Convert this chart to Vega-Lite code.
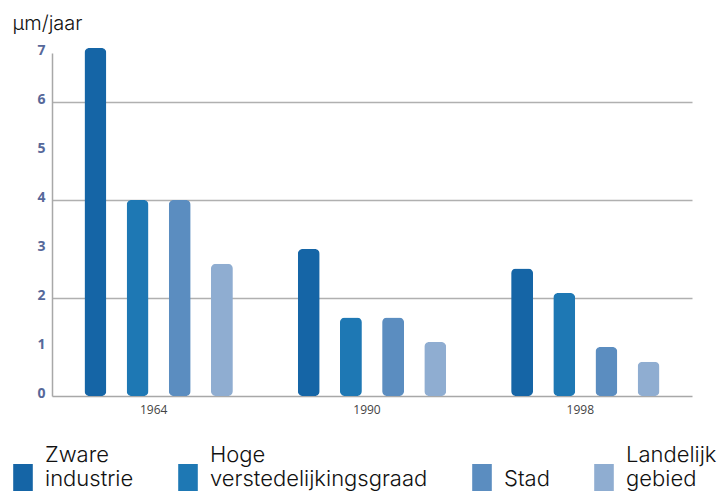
{
  "$schema": "https://vega.github.io/schema/vega-lite/v6.json",
  "width": 640,
  "height": 343,
  "autosize": {"type": "none"},
  "padding": {"left": 52, "top": 53, "right": 32, "bottom": 95},
  "background": "white",
  "config": {"font": "Inter", "view": {"stroke": null}},
  "data": {
    "values": [
      {"jaar": "1964", "categorie": "Zware industrie", "waarde": 7.1},
      {"jaar": "1964", "categorie": "Hoge verstedelijkingsgraad", "waarde": 4.0},
      {"jaar": "1964", "categorie": "Stad", "waarde": 4.0},
      {"jaar": "1964", "categorie": "Landelijk gebied", "waarde": 2.7},
      {"jaar": "1990", "categorie": "Zware industrie", "waarde": 3.0},
      {"jaar": "1990", "categorie": "Hoge verstedelijkingsgraad", "waarde": 1.6},
      {"jaar": "1990", "categorie": "Stad", "waarde": 1.6},
      {"jaar": "1990", "categorie": "Landelijk gebied", "waarde": 1.1},
      {"jaar": "1998", "categorie": "Zware industrie", "waarde": 2.6},
      {"jaar": "1998", "categorie": "Hoge verstedelijkingsgraad", "waarde": 2.1},
      {"jaar": "1998", "categorie": "Stad", "waarde": 1.0},
      {"jaar": "1998", "categorie": "Landelijk gebied", "waarde": 0.7}
    ]
  },
  "mark": {"type": "bar", "cornerRadius": 5},
  "encoding": {
    "x": {
      "field": "jaar",
      "type": "nominal",
      "scale": {"paddingInner": 0, "paddingOuter": 0},
      "axis": {
        "title": null,
        "labelAngle": 0,
        "labelFont": "Open Sans",
        "labelFontSize": 12,
        "labelColor": "#444444",
        "labelPadding": 8,
        "labelOffset": -5,
        "ticks": false,
        "domainColor": "#a8a8a8",
        "domainWidth": 1.5
      }
    },
    "xOffset": {
      "field": "categorie",
      "type": "nominal",
      "sort": ["Zware industrie", "Hoge verstedelijkingsgraad", "Stad", "Landelijk gebied"],
      "scale": {"paddingInner": 0.48, "paddingOuter": 0.77}
    },
    "y": {
      "field": "waarde",
      "type": "quantitative",
      "scale": {"domain": [0, 7], "nice": false},
      "axis": {
        "values": [0, 1, 2, 3, 4, 5, 6, 7],
        "title": "µm/jaar",
        "titleAngle": 0,
        "titleAlign": "left",
        "titleBaseline": "alphabetic",
        "titleX": -40,
        "titleY": -24,
        "titleFont": "Inter",
        "titleFontSize": 20,
        "titleFontWeight": 300,
        "titleColor": "#111111",
        "labelFont": "Open Sans",
        "labelFontWeight": "bold",
        "labelFontSize": 14,
        "labelColor": "#56689a",
        "labelPadding": 7,
        "labelOffset": -3,
        "ticks": false,
        "domainColor": "#a8a8a8",
        "domainWidth": 1.5,
        "grid": true,
        "gridColor": "#b0b0b0",
        "gridWidth": 1.5,
        "gridOpacity": {"condition": {"test": "datum.value % 2 === 0 && datum.value > 0", "value": 1}, "value": 0}
      }
    },
    "color": {
      "field": "categorie",
      "type": "nominal",
      "sort": ["Zware industrie", "Hoge verstedelijkingsgraad", "Stad", "Landelijk gebied"],
      "scale": {"range": ["#1565a6", "#1e78b4", "#5b8dc0", "#8fadd1"]},
      "legend": {
        "title": null,
        "orient": "none",
        "legendX": -43,
        "legendY": 411,
        "direction": "horizontal",
        "columns": 4,
        "padding": 0,
        "columnPadding": 40,
        "symbolType": "M-0.7,-1H0.7V1H-0.7Z",
        "symbolSize": 784,
        "symbolStrokeWidth": 0,
        "symbolOpacity": 1,
        "labelFont": "Inter",
        "labelFontSize": 22,
        "labelFontWeight": 300,
        "labelColor": "#111111",
        "labelLineHeight": 26,
        "labelOffset": 8,
        "labelLimit": 400,
        "labelExpr": "datum.label == 'Zware industrie' ? ['Zware', 'industrie'] : datum.label == 'Hoge verstedelijkingsgraad' ? ['Hoge', 'verstedelijkingsgraad'] : datum.label == 'Landelijk gebied' ? ['Landelijk', 'gebied'] : ['', datum.label]",
        "encode": {"labels": {"update": {"dy": {"value": -23}}}}
      }
    }
  }
}
